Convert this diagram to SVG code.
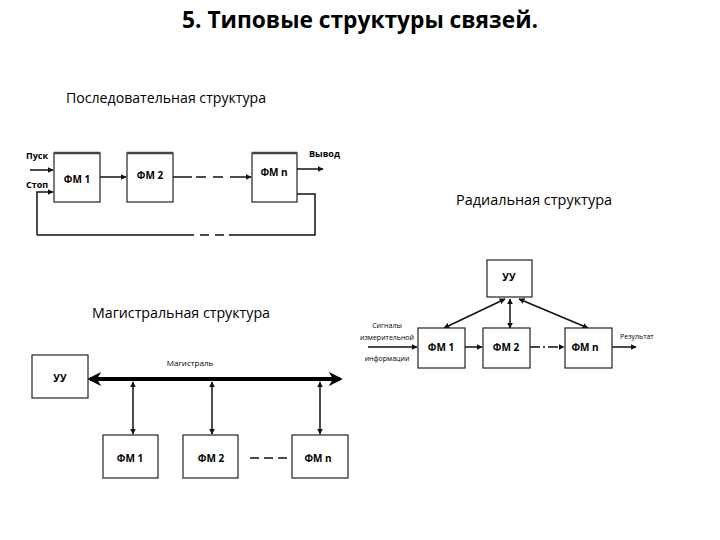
<svg xmlns="http://www.w3.org/2000/svg" width="720" height="540" viewBox="0 0 720 540">
<style>
text{font-family:"Open Sans","Liberation Sans",sans-serif;fill:#000}
.box{fill:#fff;stroke:#222;stroke-width:1.2}
.lbl{font-size:10px;font-weight:bold;text-anchor:middle}
.ln{stroke:#111;stroke-width:1.5;fill:none}
.sm{font-size:7px;text-anchor:middle}
.hdr{font-size:14.4px}
</style>
<defs>
<marker id="ah" viewBox="0 0 10 10" refX="9" refY="5" markerWidth="6" markerHeight="6" orient="auto-start-reverse" markerUnits="userSpaceOnUse"><path d="M0,0L10,5L0,10z" fill="#111"/></marker>
<marker id="ahb" viewBox="0 0 10 10" refX="8" refY="5" markerWidth="14" markerHeight="14" orient="auto-start-reverse" markerUnits="userSpaceOnUse"><path d="M0,0L10,5L0,10L3,5z" fill="#000"/></marker>
</defs>
<rect width="720" height="540" fill="#fff"/>
<text x="360" y="28" font-size="24" font-weight="bold" text-anchor="middle" textLength="356" lengthAdjust="spacingAndGlyphs">5. Типовые структуры связей.</text>
<text class="hdr" x="66" y="103" textLength="200" lengthAdjust="spacingAndGlyphs">Последовательная структура</text>
<text class="hdr" x="456" y="205" textLength="156" lengthAdjust="spacingAndGlyphs">Радиальная структура</text>
<text class="hdr" x="92" y="318" textLength="178" lengthAdjust="spacingAndGlyphs">Магистральная структура</text>

<g id="connectors">
<!-- sequential -->
<line class="ln" x1="30" y1="170" x2="53" y2="170" marker-end="url(#ah)"/>
<polyline class="ln" points="37,235 37,192 53,192" marker-end="url(#ah)"/>
<line class="ln" x1="100" y1="177" x2="126" y2="177" marker-end="url(#ah)"/>
<line class="ln" x1="173" y1="177" x2="192" y2="177"/>
<line class="ln" x1="196" y1="177" x2="240" y2="177" stroke-dasharray="10,7"/>
<line class="ln" x1="240" y1="177" x2="251" y2="177" marker-end="url(#ah)"/>
<line class="ln" x1="297" y1="169" x2="323" y2="169" marker-end="url(#ah)"/>
<polyline class="ln" points="297,194 315,194 315,235 229,235"/>
<line class="ln" x1="200" y1="235" x2="224" y2="235" stroke-dasharray="9,6"/>
<line class="ln" x1="37" y1="235" x2="194" y2="235"/>
<!-- radial -->
<line class="ln" x1="444" y1="328" x2="505" y2="299" marker-start="url(#ah)" marker-end="url(#ah)"/>
<line class="ln" x1="510" y1="299" x2="510" y2="328" marker-start="url(#ah)" marker-end="url(#ah)"/>
<line class="ln" x1="519" y1="299" x2="588" y2="328" marker-start="url(#ah)" marker-end="url(#ah)"/>
<line class="ln" x1="368" y1="347" x2="417" y2="347" stroke-width="1" marker-end="url(#ah)"/>
<line class="ln" x1="465" y1="347" x2="482" y2="347" stroke-width="1" marker-end="url(#ah)"/>
<line class="ln" x1="530" y1="347" x2="564" y2="347" stroke-width="1" stroke-dasharray="10,3,2,3" marker-end="url(#ah)"/>
<line class="ln" x1="612" y1="347" x2="636" y2="347" stroke-width="1" marker-end="url(#ah)"/>
<!-- magistral -->
<line x1="90" y1="379" x2="340" y2="379" stroke="#000" stroke-width="4" marker-start="url(#ahb)" marker-end="url(#ahb)"/>
<line class="ln" x1="133" y1="382" x2="133" y2="434" marker-start="url(#ah)" marker-end="url(#ah)"/>
<line class="ln" x1="212" y1="382" x2="212" y2="434" marker-start="url(#ah)" marker-end="url(#ah)"/>
<line class="ln" x1="320" y1="382" x2="320" y2="434" stroke="#666" stroke-width="1" marker-start="url(#ah)" marker-end="url(#ah)"/>
<line class="ln" x1="250" y1="458" x2="291" y2="458" stroke-dasharray="9,5"/>
</g>

<text x="26" y="159" font-size="9" font-weight="bold">Пуск</text>
<text x="26" y="188" font-size="9" font-weight="bold">Стоп</text>
<text x="309" y="157" font-size="9" font-weight="bold">Вывод</text>
<text class="sm" x="387" y="328">Сигналы</text>
<text class="sm" x="387" y="340">измерительной</text>
<text class="sm" x="387" y="361">информации</text>
<text x="620" y="339" font-size="7">Результат</text>
<text x="190" y="366" font-size="8" text-anchor="middle">Магистраль</text>

<g id="seq-fm1"><rect class="box" x="54" y="153" width="46" height="49"/><line x1="54" y1="153" x2="100" y2="153" stroke="#444" stroke-width="2.5"/><text class="lbl" x="77" y="183" font-size="11">ФМ 1</text></g>
<g id="seq-fm2"><rect class="box" x="127" y="153" width="46" height="49"/><line x1="127" y1="153" x2="173" y2="153" stroke="#444" stroke-width="2.5"/><text class="lbl" x="150" y="179" font-size="11" font-weight="normal">ФМ 2</text></g>
<g id="seq-fmn"><rect class="box" x="252" y="153" width="45" height="49"/><line x1="252" y1="153" x2="297" y2="153" stroke="#444" stroke-width="2.5"/><text class="lbl" x="274" y="176" font-size="11" font-weight="normal">ФМ n</text></g>

<g id="rad-uu"><rect class="box" x="487" y="260" width="45" height="37"/><text class="lbl" x="509" y="281" font-size="8">УУ</text></g>
<g id="rad-fm1"><rect class="box" x="418" y="328" width="47" height="40" stroke="#888"/><text class="lbl" x="441" y="351" font-size="8">ФМ 1</text></g>
<g id="rad-fm2"><rect class="box" x="483" y="328" width="47" height="40" stroke="#888"/><text class="lbl" x="506" y="351" font-size="8">ФМ 2</text></g>
<g id="rad-fmn"><rect class="box" x="565" y="328" width="47" height="40" stroke="#888"/><text class="lbl" x="585" y="351" font-size="8">ФМ n</text></g>

<g id="mag-uu"><rect class="box" x="32" y="355" width="56" height="43"/><text class="lbl" x="60" y="382" font-size="12">УУ</text></g>
<g id="mag-fm1"><rect class="box" x="103" y="435" width="55" height="43"/><text class="lbl" x="130" y="462" font-size="11">ФМ 1</text></g>
<g id="mag-fm2"><rect class="box" x="183" y="435" width="55" height="43"/><text class="lbl" x="211" y="462" font-size="11">ФМ 2</text></g>
<g id="mag-fmn"><rect class="box" x="292" y="435" width="56" height="43"/><text class="lbl" x="318" y="462" font-size="11">ФМ n</text></g>
</svg>
